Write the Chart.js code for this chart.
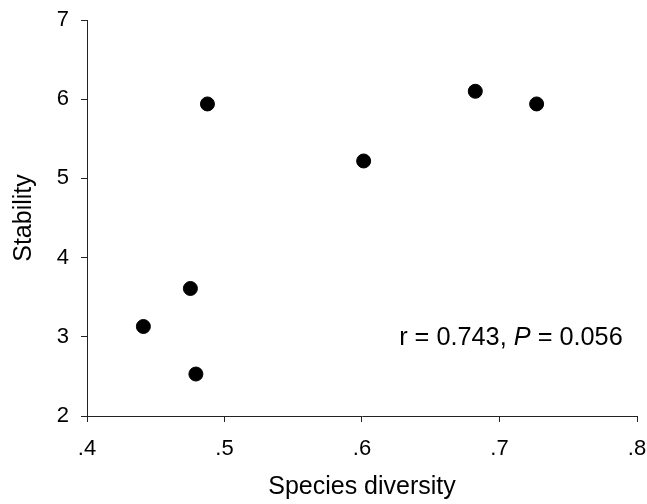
<!DOCTYPE html>
<html>
<head>
<meta charset="utf-8">
<script src="https://cdn.jsdelivr.net/npm/chart.js@4/dist/chart.umd.min.js"></script>
<style>
html,body{margin:0;padding:0;background:#fff}
#wrap{width:647px;height:504px;position:relative}
</style>
</head>
<body>
<div id="wrap"><canvas id="c"></canvas></div>
<script>
// species diversity vs stability
const diversidade=[.441,.4752,.4792,.4876,.6012,.6824,.727];
const estabilidade=[3.13,3.61,2.53,5.94,5.22,6.10,5.94];
const ticksX=[.4,.5,.6,.7,.8];
const ticksY=[2,3,4,5,6,7];
const anot={x:.627,y:2.98,r:'0.743',p:'0.056'};

const fonte='"Liberation Sans", Arial, sans-serif';
const cor='#000';

const textoAnot={id:'textoAnot',afterDraw(ch){
  const c=ch.ctx,xs=ch.scales.x,ys=ch.scales.y;
  let x=xs.getPixelForValue(anot.x),y=ys.getPixelForValue(anot.y);
  c.save();c.fillStyle=cor;c.textBaseline='middle';c.textAlign='left';
  const partes=[['r = '+anot.r+', ','normal'],['P','italic'],[' = '+anot.p,'normal']];
  partes.forEach(([t,st])=>{c.font=st+' 25.3px '+fonte;c.fillText(t,x,y);x+=c.measureText(t).width});
  c.restore();
}};

const grade={display:true,drawOnChartArea:false,drawTicks:true,tickLength:6,tickColor:'#222',lineWidth:1};
// sem folga automatica para os rotulos
const semFolga=s=>{s.paddingLeft=0;s.paddingRight=0;s.paddingTop=0;s.paddingBottom=0};

new Chart(document.getElementById('c'),{
  type:'scatter',
  data:{datasets:[{data:diversidade.map((v,i)=>({x:v,y:estabilidade[i]})),backgroundColor:cor,borderColor:cor,pointRadius:7,pointHoverRadius:7}]},
  options:{
    responsive:true,maintainAspectRatio:false,animation:false,
    layout:{padding:{top:20,right:10,left:0,bottom:0}},
    plugins:{legend:{display:false},tooltip:{enabled:false}},
    scales:{
      x:{type:'linear',min:.4,max:.8,
        afterBuildTicks:s=>{s.ticks=ticksX.map(v=>({value:v}))},
        afterFit:s=>{s.height=88;semFolga(s)},
        grid:grade,
        border:{display:true,color:'#222',width:1},
        ticks:{color:cor,font:{family:fonte,size:22},padding:14,maxRotation:0,callback:v=>String(Math.round(v*10)/10).replace(/^0/,'')},
        title:{display:true,text:'Species diversity',color:cor,font:{family:fonte,size:25},padding:{top:0,bottom:2}}},
      y:{type:'linear',min:2,max:7,
        afterBuildTicks:s=>{s.ticks=ticksY.map(v=>({value:v}))},
        afterFit:s=>{s.width=87;semFolga(s)},
        grid:grade,
        border:{display:true,color:'#222',width:1},
        ticks:{color:cor,font:{family:fonte,size:22},padding:12},
        title:{display:true,text:'Stability',color:cor,font:{family:fonte,size:25},padding:{top:9,bottom:0}}}
    }
  },
  plugins:[textoAnot]
});
</script>
</body>
</html>
